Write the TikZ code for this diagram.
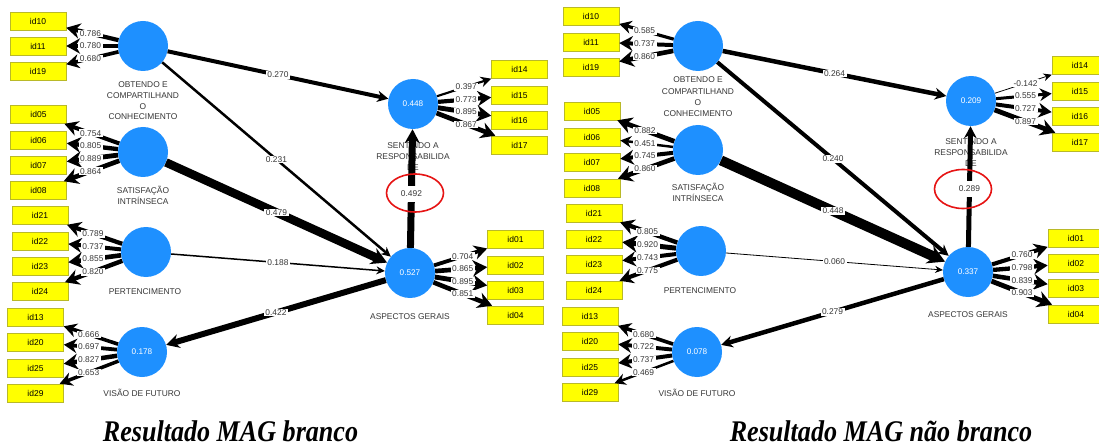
\documentclass[tikz,border=0pt]{standalone}
\usepackage{fontspec}
\setmainfont{Liberation Sans}
\newfontfamily\capfont{Liberation Serif}
\usetikzlibrary{arrows.meta,calc}
\definecolor{latblue}{RGB}{30,144,255}
\definecolor{indyellow}{RGB}{255,255,0}
\definecolor{indedge}{RGB}{185,185,40}
\definecolor{txtgray}{RGB}{55,55,55}
\definecolor{ringred}{RGB}{230,20,20}

\tikzset{
  lat/.style={circle, fill=latblue, minimum size=50pt, inner sep=0pt,
    text=white, font=\fontsize{8.2}{9}\selectfont},
  ind/.style={rectangle, fill=indyellow, draw=indedge, line width=0.6pt,
    minimum width=56pt, minimum height=18pt, inner sep=0pt,
    font=\fontsize{8.5}{10}\selectfont},
  latname/.style={anchor=base, inner sep=0pt, text=txtgray,
    font=\fontsize{8.4}{10}\selectfont},
  num/.style={fill=white, inner xsep=1.5pt, inner ysep=1pt, text=txtgray,
    font=\fontsize{8.4}{9}\selectfont},
  load/.style={line width=#1, -{Stealth[length=7pt 1.6, width=6pt 2.2]}},
  coef/.style={line width=#1, -{Stealth[length=7pt 1, width=6pt 1.3]}},
  caption/.style={anchor=base, inner sep=0pt,
    font=\capfont\bfseries\itshape\fontsize{30}{30}\selectfont},
}

% indicator boxes: name/x/y/label
\def\indlist{%
  iL10/38/21/id10, iL11/38/46/id11, iL19/38/71/id19,
  iL05/38.5/114.5/id05, iL06/38.5/140/id06, iL07/38.5/165/id07, iL08/38.5/190.5/id08,
  iL21/40/215.5/id21, iL22/40/241/id22, iL23/40/266/id23, iL24/40/291.5/id24,
  iL13/35.5/317/id13, iL20/35.5/342/id20, iL25/35.5/368/id25, iL29/35.5/393/id29,
  iL14/519.5/69.5/id14, iL15/519.5/95/id15, iL16/519.5/120/id16, iL17/519.5/145/id17,
  iL01/515.5/239.5/id01, iL02/515.5/265/id02, iL03/515.5/290/id03, iL04/515.5/315/id04,
  iR10/591/16/id10, iR11/591/42/id11, iR19/591/67/id19,
  iR05/592/111/id05, iR06/592/137/id06, iR07/592/162/id07, iR08/592/188/id08,
  iR21/594/213/id21, iR22/594/239/id22, iR23/594/264/id23, iR24/594/290/id24,
  iR13/590/316.5/id13, iR20/590/341.5/id20, iR25/590/367/id25, iR29/590/392.5/id29,
  iR14/1080/65.5/id14, iR15/1080/91/id15, iR16/1080/116/id16, iR17/1080/142/id17,
  iR01/1076/238/id01, iR02/1076/263/id02, iR03/1076/288.5/id03, iR04/1076/314/id04}

% outer loadings: construct/indicator/value
\def\loadlist{%
  obtL/iL10/0.786, obtL/iL11/0.780, obtL/iL19/0.680,
  satL/iL05/0.754, satL/iL06/0.805, satL/iL07/0.889, satL/iL08/0.864,
  perL/iL21/0.789, perL/iL22/0.737, perL/iL23/0.855, perL/iL24/0.820,
  visL/iL13/0.666, visL/iL20/0.697, visL/iL25/0.827, visL/iL29/0.653,
  senL/iL14/0.397, senL/iL15/0.773, senL/iL16/0.895, senL/iL17/0.867,
  aspL/iL01/0.704, aspL/iL02/0.865, aspL/iL03/0.895, aspL/iL04/0.851,
  obtR/iR10/0.585, obtR/iR11/0.737, obtR/iR19/0.860,
  satR/iR05/0.882, satR/iR06/0.451, satR/iR07/0.745, satR/iR08/0.860,
  perR/iR21/0.805, perR/iR22/0.920, perR/iR23/0.743, perR/iR24/0.775,
  visR/iR13/0.680, visR/iR20/0.722, visR/iR25/0.737, visR/iR29/0.469,
  senR/iR14/-0.142, senR/iR15/0.555, senR/iR16/0.727, senR/iR17/0.897,
  aspR/iR01/0.760, aspR/iR02/0.798, aspR/iR03/0.839, aspR/iR04/0.903}

% path coefficients: from/to/value/line width/label position
\def\coeflist{%
  obtL/senL/0.270/4/0.5, obtL/aspL/0.231/2.5/0.5, satL/aspL/0.479/8.5/0.5,
  perL/aspL/0.188/1.5/0.5, aspL/visL/0.422/6/0.5,
  obtR/senR/0.264/4.5/0.5, obtR/aspR/0.240/4/0.5, satR/aspR/0.448/10/0.5,
  perR/aspR/0.060/0.8/0.5, aspR/visR/0.279/4.5/0.5}

% construct names, one node per line: name/x/y(centre)/text
\def\namelist{%
  nObtL1/143/85/OBTENDO E, nObtL2/143/95.7/COMPARTILHAND, nObtL3/143/106.4/O, nObtL4/143/117/CONHECIMENTO,
  nSatL1/143/191/SATISFAÇÃO, nSatL2/143/202/INTRÍNSECA,
  nPerL1/145/291/PERTENCIMENTO,
  nVisL1/142/393/VISÃO DE FUTURO,
  nSenL1/413/146/SENTINDO A, nSenL2/413/156.7/RESPONSABILIDA, nSenL3/413/167.4/DE,
  nAspL1/410/316/ASPECTOS GERAIS,
  nObtR1/698/80/OBTENDO E, nObtR2/698/91.2/COMPARTILHAND, nObtR3/698/102.4/O, nObtR4/698/113.6/CONHECIMENTO,
  nSatR1/698/188/SATISFAÇÃO, nSatR2/698/199/INTRÍNSECA,
  nPerR1/700/290/PERTENCIMENTO,
  nVisR1/697/393/VISÃO DE FUTURO,
  nSenR1/971/142/SENTINDO A, nSenR2/971/153/RESPONSABILIDA, nSenR3/971/164/DE,
  nAspR1/968/314/ASPECTOS GERAIS}

\begin{document}
\begin{tikzpicture}[x=1pt, y=-1pt]
\path[use as bounding box, fill=white] (0,0) rectangle (1099,446);
\clip (0,0) rectangle (1099,446);

% constructs (left model)
\node[lat] (obtL) at (143,46) {};
\node[lat] (satL) at (143,152) {};
\node[lat] (perL) at (146,252) {};
\node[lat] (visL) at (142,352) {0.178};
\node[lat] (senL) at (413,104) {0.448};
\node[lat] (aspL) at (410,273) {0.527};

% constructs (right model)
\node[lat] (obtR) at (698,46) {};
\node[lat] (satR) at (698,150) {};
\node[lat] (perR) at (701,251) {};
\node[lat] (visR) at (697,352) {0.078};
\node[lat] (senR) at (971,101) {0.209};
\node[lat] (aspR) at (968,272) {0.337};

% indicators
\foreach \nm/\x/\y/\t in \indlist
  \node[ind] (\nm) at (\x,\y) {\t};

% construct names
\foreach \nm/\x/\y/\t in \namelist
  \node[latname] (\nm) at (\x,\y+3) {\t};

% loading arrows
\foreach \a/\b/\v in \loadlist {
  \pgfmathsetmacro\w{5.4*abs(\v)}
  \draw[load=\w pt] (\a) -- (\b);
}

% structural paths
\foreach \a/\b/\v/\w/\p in \coeflist
  \draw[coef=\w pt] (\a) -- (\b);
\draw[coef=7pt] (aspL) -- (senL);
\draw[coef=5pt] (aspR) -- (senR);

% loading values
\foreach \a/\b/\v in \loadlist
  \node[num] at ($(\a)!0.5!(\b)$) {\v};

% path coefficient values
\foreach \a/\b/\v/\w/\p in \coeflist
  \node[num] at ($(\a)!\p!(\b)$) {\v};
\node[num, inner ysep=5pt] (kL) at ($(aspL)!0.47!(senL)$) {0.492};
\node[num, inner ysep=5pt] (kR) at ($(aspR)!0.485!(senR)$) {0.289};

% highlight rings
\draw[ringred, line width=1.6pt] (415,193) ellipse [x radius=28.5pt, y radius=19pt];
\draw[ringred, line width=1.6pt] (963,189) ellipse [x radius=28.5pt, y radius=19.5pt];

% captions
\node[caption] (capL) at (230.5,441) {\scalebox{0.87}[1]{Resultado MAG branco}};
\node[caption] (capR) at (881,441) {\scalebox{0.87}[1]{Resultado MAG não branco}};
\end{tikzpicture}
\end{document}
